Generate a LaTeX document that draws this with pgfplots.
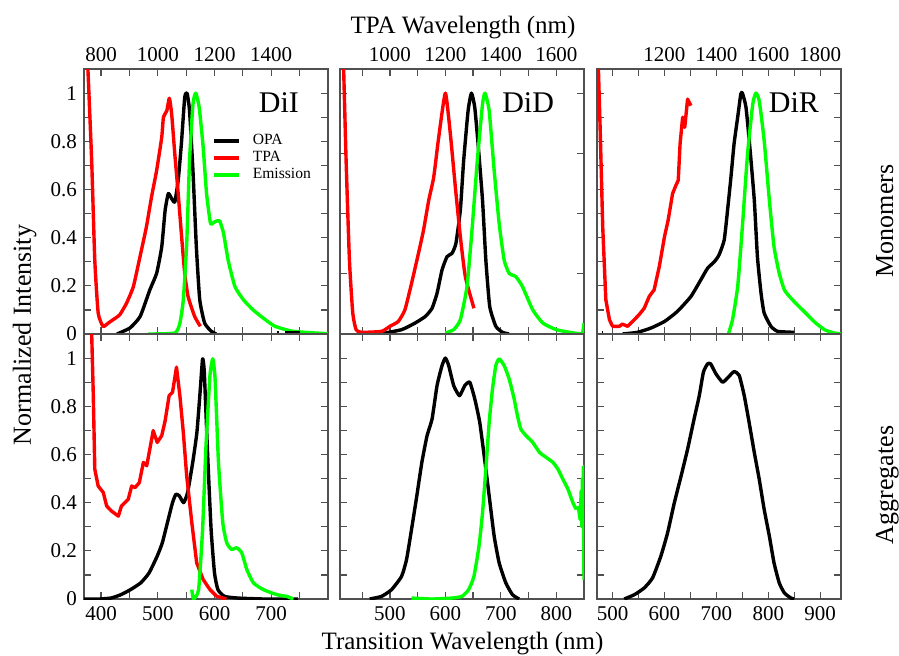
\documentclass[border=0pt]{standalone}
\usepackage{fontspec}
\setmainfont{Liberation Serif}
\usepackage{pgfplots}
\pgfplotsset{compat=1.18}

\definecolor{framegray}{RGB}{80,80,80}
\definecolor{emgreen}{RGB}{0,255,0}

\pgfplotsset{
  panel/.style={
    scale only axis, width=122pt, height=132.5pt,
    anchor=north west,
    ymin=0, ymax=1.1,
    axis line style={framegray, line width=0.7pt},
    every tick/.style={framegray, line width=0.6pt},
    tick align=inside,
    major tick length=3.5pt, minor tick length=3.5pt,
    tick label style={font=\fontsize{10.5}{12}\selectfont},
    /pgf/number format/assume math mode=true,
    ytick={0,0.2,0.4,0.6,0.8,1},
    minor ytick={0.1,0.3,0.5,0.7,0.9},
    ytick pos=both, xtick pos=both,
    yticklabels={},
  },
  opa/.style={black, line width=1.7pt, line join=round, smooth, tension=0.3},
  tpa/.style={red, line width=1.7pt, line join=round, smooth, tension=0.3},
  emi/.style={emgreen, line width=1.7pt, line join=round, smooth, tension=0.3},
}

\begin{document}
\begin{tikzpicture}
\path[use as bounding box] (0,0) rectangle (449.5pt,-327.5pt);

% ---------- top row: monomers ----------
\begin{axis}[panel, at={(42pt,-34.5pt)},
  xmin=370, xmax=800,
  xtick={400,500,600,700}, minor xtick={450,550,650,750},
  xticklabels={800,1000,1200,1400}, xticklabel pos=right,
  yticklabels={0,0.2,0.4,0.6,0.8,1},
  legend style={at={(0.50,0.785)}, anchor=north west, draw=none, fill=none,
    font=\fontsize{7.8}{9}\selectfont, row sep=-2.2pt,
    /tikz/every odd column/.append style={column sep=4pt}},
  legend cell align=left,
  legend image code/.code={\draw[#1] (0pt,0pt) -- (12.5pt,0pt);}]
\addplot[opa] coordinates {(428,0) (451,0.025) (469,0.073) (486,0.183) (498,0.252) (507,0.362) (513,0.514) (518.6,0.583) (524.5,0.562) (530,0.548) (536,0.638) (541.6,0.789) (547.5,0.982) (551.6,1.0) (556,0.927) (562,0.679) (568,0.362) (574,0.142) (582.7,0.045) (594.5,0.011) (603,0)};
\addlegendentry{OPA}
\addplot[tpa] coordinates {(376,1.15) (383.5,0.72) (389,0.307) (395,0.087) (403.6,0.032) (412.5,0.045) (421,0.059) (433,0.08) (445,0.128) (457,0.197) (468.7,0.321) (480,0.445) (489,0.569) (498,0.679) (507,0.817) (510,0.9) (516,0.927) (520.4,0.979) (524.5,0.913) (530,0.748) (536,0.583) (541.6,0.417) (547.5,0.252) (553.4,0.156) (565,0.073) (575,0.032)};
\addlegendentry{TPA}
\addplot[emi] coordinates {(483,0) (530,0.004) (539,0.045) (545,0.142) (551,0.376) (556,0.72) (562,0.954) (567,1.0) (573,0.941) (580,0.776) (586,0.583) (593,0.459) (600.5,0.466) (609,0.47) (616,0.417) (624,0.307) (636,0.197) (651,0.142) (668,0.1) (686,0.066) (706.6,0.032) (739,0.011) (800,0.001)};
\addlegendentry{Emission}
\addplot[opa, forget plot] coordinates {(711,0.004) (714,0.004)};
\addplot[opa, forget plot] coordinates {(724,0.004) (750,0.004)};
\end{axis}

\begin{axis}[panel, at={(170pt,-34.5pt)},
  xmin=410, xmax=850,
  xtick={500,600,700,800}, minor xtick={450,550,650,750},
  xticklabels={1000,1200,1400,1600}, xticklabel pos=right,
  ytick={0,0.25,0.5,0.75,1}, minor ytick={}]
\addplot[opa] coordinates {(482,0) (521,0.018) (545,0.045) (564,0.073) (576,0.107) (585,0.169) (594,0.266) (603,0.321) (612,0.335) (619,0.376) (627,0.514) (633,0.72) (641,0.927) (647,1.0) (653,0.941) (659,0.789) (667,0.555) (673,0.307) (680,0.114) (691,0.032) (703,0.007) (715,0)};
\addplot[tpa] coordinates {(416,1.15) (421,0.72) (427,0.307) (433,0.087) (439,0.018) (448.5,0.007) (485,0.011) (500,0.032) (515,0.052) (527,0.1) (539,0.21) (551.5,0.335) (560.6,0.431) (570,0.555) (579,0.651) (588,0.817) (600,1.0) (609,0.83) (618,0.61) (627,0.404) (636,0.238) (651.5,0.107)};
\addplot[emi] coordinates {(600,0.004) (615,0.018) (627,0.059) (639,0.197) (648.5,0.445) (657.6,0.72) (667,0.954) (671.5,1.0) (679,0.927) (688,0.679) (697,0.459) (706,0.307) (715,0.252) (727,0.238) (739,0.197) (757.6,0.1) (776,0.045) (800,0.018) (824,0.007) (845.5,0) (848,0.01) (850,0.045)};
\end{axis}

\begin{axis}[panel, at={(298.5pt,-34.5pt)},
  xmin=470, xmax=940,
  xtick={500,600,700,800,900}, minor xtick={550,650,750,850},
  xticklabels={{},1200,1400,1600,1800}, xticklabel pos=right]
\addplot[opa] coordinates {(519,0) (548,0.007) (574,0.025) (600,0.052) (625,0.094) (651,0.156) (670,0.225) (683,0.273) (696,0.3) (705,0.328) (715,0.39) (721.5,0.514) (728,0.651) (734,0.789) (741,0.9) (747,0.996) (750,1.0) (757,0.941) (765,0.761) (773,0.555) (779,0.321) (786,0.169) (792,0.087) (805,0.032) (818,0.011) (850,0.007)};
\addplot[opa] coordinates {(480,0.004) (482,0.004)};
\addplot[tpa, sharp plot] coordinates {(472,1.15) (476,0.858) (481,0.445) (487,0.142) (494,0.059) (500,0.032) (513,0.032) (519,0.041) (529,0.032) (538.5,0.052) (551,0.08) (561,0.107) (570.6,0.156) (580,0.183) (590,0.28) (600,0.404) (607,0.472) (615.6,0.583) (622,0.617) (626.5,0.638) (630,0.789) (635,0.9) (639,0.858) (644.5,0.975) (651,0.948)};
\addplot[emi] coordinates {(723,0) (731,0.059) (741,0.197) (750,0.445) (760,0.748) (770,0.954) (776,1.0) (782.5,0.968) (792,0.803) (802,0.555) (811,0.362) (821,0.252) (831,0.183) (843.5,0.149) (856,0.121) (872,0.087) (888,0.052) (908,0.018) (927,0.004) (941,0)};
\end{axis}

% ---------- bottom row: aggregates ----------
\begin{axis}[panel, at={(42pt,-167pt)},
  xmin=370, xmax=800,
  xtick={400,500,600,700}, minor xtick={450,550,650,750},
  xticklabel pos=left,
  yticklabels={0,0.2,0.4,0.6,0.8,1}]
\addplot[opa] coordinates {(370,0) (396,0) (417.5,0.004) (435,0.018) (452,0.039) (470,0.067) (484.6,0.108) (499,0.178) (508,0.233) (517,0.317) (526,0.4) (532,0.435) (538,0.428) (545.6,0.4) (552.6,0.442) (561.6,0.567) (569,0.692) (575,0.872) (579,0.997) (582,0.942) (588,0.594) (594,0.289) (600,0.108) (606,0.039) (617.6,0.011) (641,0.004) (688,0) (747,0)};
\addplot[tpa, sharp plot] coordinates {(383,1.15) (386.4,0.844) (389,0.539) (395,0.469) (404,0.442) (410,0.386) (418.5,0.365) (430.5,0.344) (436,0.386) (448,0.414) (454,0.469) (460,0.4625) (467.5,0.483) (474.6,0.567) (480.5,0.553) (486,0.622) (492,0.699) (499,0.65) (507,0.678) (513,0.74) (520,0.844) (526,0.858) (533,0.9625) (539,0.844) (545,0.692) (551,0.511) (560,0.317) (568.6,0.15) (580,0.081) (592,0.039) (604,0.011) (621,0)};
\addplot[emi] coordinates {(560,0.039) (563,0) (572,0.039) (579,0.289) (585,0.636) (592,0.928) (597,0.997) (601,0.914) (607,0.567) (614.6,0.317) (621.6,0.233) (630,0.206) (639,0.2125) (648,0.192) (657,0.122) (668.6,0.067) (686,0.039) (710,0.018) (727,0.011) (739,0)};
\end{axis}

\begin{axis}[panel, at={(170pt,-167pt)},
  xmin=410, xmax=850,
  xtick={500,600,700,800}, minor xtick={450,550,650,750},
  xticklabel pos=left]
\addplot[opa] coordinates {(463.6,0) (485,0.011) (503,0.039) (521,0.094) (530,0.164) (539,0.289) (548.5,0.428) (557.6,0.567) (567,0.678) (576,0.747) (585,0.886) (594,0.969) (600,1.0) (606,0.969) (615,0.886) (625.5,0.844) (635,0.886) (644,0.9) (653,0.831) (662,0.733) (671.5,0.567) (679,0.428) (688,0.261) (697,0.15) (709,0.067) (721,0.018) (733,0)};
\addplot[emi] coordinates {(539,0.004) (576,0) (612,0.004) (630,0.011) (642,0.039) (651.5,0.094) (660.6,0.219) (667,0.358) (673,0.539) (679,0.733) (685,0.872) (691,0.969) (697,0.997) (706,0.969) (715,0.914) (724,0.831) (730,0.761) (736,0.706) (745.5,0.678) (757.6,0.65) (770,0.608) (782,0.5875) (794,0.567) (803,0.539) (812,0.497) (821,0.456) (830,0.4) (836,0.372)};
\addplot[emi, sharp plot] coordinates {(836,0.372) (840,0.38) (843,0.33) (845,0.45) (846,0.3) (847,0.5) (848,0.35) (849,0.55) (849.5,0.2) (850,0.08)};
\end{axis}

\begin{axis}[panel, at={(298.5pt,-167pt)},
  xmin=470, xmax=940,
  xtick={500,600,700,800,900}, minor xtick={550,650,750,850},
  xticklabel pos=left]
\addplot[opa] coordinates {(522.5,0) (542,0.018) (561,0.046) (577,0.0875) (593,0.178) (606,0.275) (619,0.4) (632,0.511) (644.5,0.622) (657,0.747) (667,0.844) (675,0.942) (683,0.976) (689,0.976) (699,0.935) (712,0.9) (723,0.921) (734,0.944) (744,0.928) (753.6,0.844) (763,0.733) (773,0.608) (782.5,0.497) (792,0.372) (802,0.261) (811,0.15) (821,0.067) (831,0.025) (843.5,0.004) (850,0)};
\end{axis}

% ---------- texts ----------
\begin{scope}[x=0.5pt, y=-0.5pt]
\node[anchor=east, font=\fontsize{15}{18}\selectfont] at (306,103) {DiI};
\node[anchor=east, font=\fontsize{15}{18}\selectfont] at (561,103) {DiD};
\node[anchor=east, font=\fontsize{15}{18}\selectfont] at (826,103) {DiR};
\node[anchor=base, font=\fontsize{12.5}{15}\selectfont] at (463,33) {TPA Wavelength (nm)};
\node[anchor=base, font=\fontsize{12.5}{15}\selectfont] at (462.5,649) {Transition Wavelength (nm)};
\node[anchor=base, rotate=90, font=\fontsize{13}{15}\selectfont] at (31,335) {Normalized Intensity};
\node[anchor=base, rotate=90, font=\fontsize{13}{15}\selectfont] at (893,221) {Monomers};
\node[anchor=base, rotate=90, font=\fontsize{13}{15}\selectfont] at (893,485) {Aggregates};
\end{scope}
\end{tikzpicture}
\end{document}
